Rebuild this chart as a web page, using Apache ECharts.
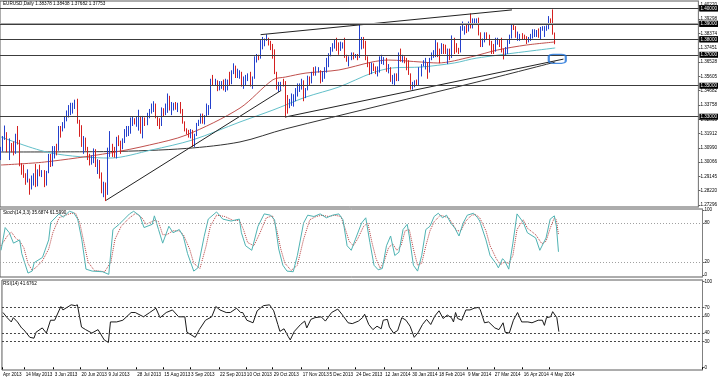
<!DOCTYPE html>
<html><head><meta charset="utf-8">
<script src="https://cdn.jsdelivr.net/npm/echarts@6/dist/echarts.min.js"></script>
<style>html,body{margin:0;padding:0;background:#fff}#c{width:720px;height:378px}</style>
</head><body><div id="c"></div>
<script>
// ---------------- DATA ----------------
const symbolName = 'EURUSD,Daily';
const firstBarDate = '2013-04-29';
const opens = [
1.3030,1.3090,1.3165,1.3185,1.3090,1.3115,1.3110,1.3075,1.3180,1.3145,
1.2990,1.2970,1.2915,1.2880,1.2885,1.2835,1.2905,1.2910,1.2865,1.2935,
1.2930,1.2935,1.2860,1.2940,1.3000,1.2995,1.3070,1.3090,1.3085,1.3225,
1.3220,1.3255,1.3280,1.3320,1.3340,1.3345,1.3380,1.3395,1.3275,1.3220,
1.3120,1.3125,1.3085,1.3025,1.3010,1.3010,1.3080,1.2990,1.3010,1.2925,
1.2830,1.2865,1.2810,1.3085,1.3110,1.3065,1.3060,1.3160,1.3140,1.3105,
1.3140,1.3215,1.3225,1.3230,1.3275,1.3275,1.3260,1.3280,1.3300,1.3200,
1.3285,1.3265,1.3300,1.3340,1.3345,1.3380,1.3300,1.3265,1.3255,1.3335,
1.3330,1.3340,1.3420,1.3350,1.3360,1.3380,1.3365,1.3380,1.3340,1.3255,
1.3220,1.3195,1.3180,1.3210,1.3115,1.3180,1.3255,1.3265,1.3315,1.3295,
1.3300,1.3340,1.3360,1.3530,1.3525,1.3525,1.3490,1.3505,1.3520,1.3485,
1.3525,1.3525,1.3520,1.3580,1.3620,1.3555,1.3575,1.3575,1.3520,1.3530,
1.3555,1.3565,1.3510,1.3555,1.3680,1.3685,1.3680,1.3780,1.3780,1.3800,
1.3800,1.3785,1.3745,1.3730,1.3585,1.3485,1.3515,1.3520,1.3510,1.3415,
1.3365,1.3395,1.3430,1.3440,1.3445,1.3500,1.3500,1.3530,1.3440,1.3480,
1.3555,1.3525,1.3585,1.3580,1.3590,1.3590,1.3540,1.3590,1.3590,1.3665,
1.3705,1.3745,1.3760,1.3780,1.3760,1.3740,1.3765,1.3765,1.3685,1.3665,
1.3675,1.3700,1.3690,1.3695,1.3680,1.3735,1.3800,1.3745,1.3670,1.3625,
1.3585,1.3630,1.3615,1.3580,1.3590,1.3665,1.3670,1.3675,1.3600,1.3615,
1.3540,1.3550,1.3565,1.3545,1.3690,1.3675,1.3675,1.3665,1.3610,1.3575,
1.3485,1.3515,1.3520,1.3515,1.3595,1.3635,1.3635,1.3645,1.3590,1.3675,
1.3695,1.3710,1.3775,1.3715,1.3710,1.3745,1.3740,1.3715,1.3730,1.3680,
1.3805,1.3740,1.3735,1.3720,1.3865,1.3875,1.3875,1.3865,1.3905,1.3900,
1.3910,1.3925,1.3930,1.3830,1.3780,1.3790,1.3830,1.3825,1.3780,1.3750,
1.3745,1.3770,1.3795,1.3780,1.3715,1.3705,1.3730,1.3790,1.3815,1.3890,
1.3885,1.3815,1.3815,1.3825,1.3815,1.3810,1.3800,1.3805,1.3810,1.3830,
1.3830,1.3840,1.3810,1.3865,1.3870,1.3870,1.3875,1.3925,1.3905,1.38378];
const highs = [
1.3105,1.3175,1.3243,1.3200,1.3160,1.3130,1.3140,1.3190,1.3240,1.3150,
1.3000,1.2990,1.2935,1.2960,1.2900,1.2920,1.2935,1.2995,1.2960,1.2990,
1.2955,1.2955,1.2950,1.3060,1.3060,1.3110,1.3110,1.3125,1.3240,1.3240,
1.3265,1.3300,1.3340,1.3375,1.3390,1.3390,1.3410,1.3416,1.3280,1.3245,
1.3175,1.3165,1.3105,1.3060,1.3050,1.3095,1.3090,1.3025,1.3020,1.2940,
1.2880,1.2875,1.3100,1.3207,1.3125,1.3105,1.3170,1.3180,1.3145,1.3160,
1.3220,1.3240,1.3240,1.3295,1.3300,1.3290,1.3300,1.3345,1.3305,1.3305,
1.3295,1.3325,1.3350,1.3385,1.3400,1.3385,1.3305,1.3290,1.3360,1.3355,
1.3385,1.3450,1.3435,1.3395,1.3390,1.3395,1.3390,1.3395,1.3350,1.3270,
1.3225,1.3215,1.3220,1.3215,1.3190,1.3260,1.3280,1.3320,1.3320,1.3310,
1.3385,1.3375,1.3545,1.3570,1.3545,1.3535,1.3530,1.3530,1.3540,1.3545,
1.3540,1.3590,1.3600,1.3645,1.3630,1.3610,1.3600,1.3590,1.3560,1.3570,
1.3580,1.3590,1.3560,1.3690,1.3705,1.3700,1.3795,1.3815,1.3805,1.3832,
1.3810,1.3790,1.3770,1.3735,1.3590,1.3525,1.3525,1.3545,1.3530,1.3440,
1.3415,1.3450,1.3445,1.3485,1.3515,1.3515,1.3545,1.3535,1.3485,1.3565,
1.3560,1.3590,1.3620,1.3625,1.3620,1.3600,1.3595,1.3620,1.3680,1.3710,
1.3750,1.3775,1.3800,1.3810,1.3780,1.3785,1.3780,1.3810,1.3700,1.3690,
1.3715,1.3715,1.3705,1.3705,1.3893,1.3815,1.3815,1.3790,1.3690,1.3650,
1.3650,1.3645,1.3625,1.3625,1.3690,1.3700,1.3685,1.3680,1.3640,1.3620,
1.3570,1.3580,1.3580,1.3715,1.3740,1.3700,1.3690,1.3680,1.3665,1.3580,
1.3525,1.3535,1.3540,1.3620,1.3640,1.3665,1.3680,1.3650,1.3680,1.3715,
1.3730,1.3795,1.3780,1.3740,1.3775,1.3770,1.3765,1.3740,1.3740,1.3825,
1.3810,1.3775,1.3745,1.3885,1.3915,1.3885,1.3895,1.3915,1.3967,1.3935,
1.3935,1.3935,1.3940,1.3845,1.3805,1.3845,1.3845,1.3830,1.3790,1.3770,
1.3810,1.3810,1.3800,1.3810,1.3740,1.3750,1.3795,1.3830,1.3905,1.3905,
1.3885,1.3850,1.3835,1.3840,1.3830,1.3820,1.3815,1.3835,1.3865,1.3865,
1.3860,1.3870,1.3880,1.3885,1.3885,1.3890,1.3950,1.3935,1.3993,1.38438];
const lows = [
1.3020,1.3075,1.3150,1.3070,1.3020,1.3070,1.3050,1.3060,1.3120,1.2980,
1.2925,1.2905,1.2860,1.2875,1.2796,1.2830,1.2855,1.2845,1.2850,1.2915,
1.2910,1.2845,1.2855,1.2935,1.2975,1.2980,1.3030,1.3050,1.3080,1.3165,
1.3205,1.3225,1.3270,1.3295,1.3310,1.3320,1.3350,1.3255,1.3170,1.3105,
1.3060,1.3080,1.3020,1.2985,1.2990,1.3000,1.2975,1.2930,1.2900,1.2805,
1.2780,1.2755,1.2795,1.3040,1.3040,1.3035,1.3030,1.3110,1.3060,1.3090,
1.3130,1.3170,1.3175,1.3190,1.3240,1.3250,1.3235,1.3210,1.3190,1.3160,
1.3240,1.3245,1.3290,1.3320,1.3330,1.3290,1.3240,1.3220,1.3240,1.3300,
1.3310,1.3325,1.3340,1.3310,1.3340,1.3345,1.3330,1.3320,1.3255,1.3205,
1.3185,1.3165,1.3160,1.3105,1.3105,1.3175,1.3240,1.3255,1.3255,1.3250,
1.3300,1.3310,1.3350,1.3500,1.3500,1.3465,1.3470,1.3480,1.3470,1.3460,
1.3470,1.3500,1.3510,1.3575,1.3550,1.3550,1.3545,1.3495,1.3480,1.3500,
1.3530,1.3495,1.3480,1.3545,1.3650,1.3665,1.3675,1.3735,1.3755,1.3790,
1.3760,1.3730,1.3675,1.3575,1.3475,1.3460,1.3470,1.3495,1.3295,1.3320,
1.3355,1.3370,1.3365,1.3400,1.3430,1.3460,1.3475,1.3400,1.3420,1.3470,
1.3505,1.3515,1.3565,1.3565,1.3585,1.3515,1.3525,1.3545,1.3585,1.3620,
1.3690,1.3720,1.3740,1.3725,1.3700,1.3725,1.3740,1.3680,1.3655,1.3625,
1.3665,1.3670,1.3680,1.3665,1.3680,1.3735,1.3740,1.3665,1.3620,1.3570,
1.3575,1.3595,1.3575,1.3560,1.3585,1.3640,1.3635,1.3590,1.3580,1.3525,
1.3510,1.3505,1.3530,1.3530,1.3655,1.3650,1.3645,1.3600,1.3570,1.3475,
1.3475,1.3490,1.3500,1.3500,1.3560,1.3625,1.3605,1.3545,1.3585,1.3665,
1.3680,1.3685,1.3685,1.3645,1.3705,1.3705,1.3705,1.3640,1.3665,1.3680,
1.3705,1.3715,1.3705,1.3715,1.3855,1.3830,1.3840,1.3850,1.3870,1.3870,
1.3895,1.3895,1.3825,1.3750,1.3750,1.3780,1.3800,1.3760,1.3705,1.3705,
1.3720,1.3765,1.3750,1.3715,1.3670,1.3695,1.3705,1.3770,1.3805,1.3860,
1.3810,1.3790,1.3790,1.3800,1.3800,1.3770,1.3780,1.3790,1.3805,1.3815,
1.3815,1.3810,1.3800,1.3855,1.3815,1.3855,1.3865,1.3895,1.3830,1.37682];
const closes = [
1.3090,1.3165,1.3185,1.3090,1.3115,1.3110,1.3075,1.3180,1.3145,1.2990,
1.2970,1.2915,1.2880,1.2885,1.2835,1.2905,1.2910,1.2865,1.2935,1.2930,
1.2935,1.2860,1.2940,1.3000,1.2995,1.3070,1.3090,1.3085,1.3225,1.3220,
1.3255,1.3280,1.3320,1.3340,1.3345,1.3380,1.3395,1.3275,1.3220,1.3120,
1.3125,1.3085,1.3025,1.3010,1.3010,1.3080,1.2990,1.3010,1.2925,1.2830,
1.2865,1.2810,1.3085,1.3110,1.3065,1.3060,1.3160,1.3140,1.3105,1.3140,
1.3215,1.3225,1.3230,1.3275,1.3275,1.3260,1.3280,1.3300,1.3200,1.3285,
1.3265,1.3300,1.3340,1.3345,1.3380,1.3300,1.3265,1.3255,1.3335,1.3330,
1.3340,1.3420,1.3350,1.3360,1.3380,1.3365,1.3380,1.3340,1.3255,1.3220,
1.3195,1.3180,1.3210,1.3115,1.3180,1.3255,1.3265,1.3315,1.3295,1.3300,
1.3340,1.3360,1.3530,1.3525,1.3525,1.3490,1.3505,1.3520,1.3485,1.3525,
1.3525,1.3520,1.3580,1.3620,1.3555,1.3575,1.3575,1.3520,1.3530,1.3555,
1.3565,1.3510,1.3555,1.3680,1.3685,1.3680,1.3780,1.3780,1.3800,1.3800,
1.3785,1.3745,1.3730,1.3585,1.3485,1.3515,1.3520,1.3510,1.3415,1.3365,
1.3395,1.3430,1.3440,1.3445,1.3500,1.3500,1.3530,1.3440,1.3480,1.3555,
1.3525,1.3585,1.3580,1.3590,1.3590,1.3540,1.3590,1.3590,1.3665,1.3705,
1.3745,1.3760,1.3780,1.3760,1.3740,1.3765,1.3765,1.3685,1.3665,1.3675,
1.3700,1.3690,1.3695,1.3680,1.3735,1.3800,1.3745,1.3670,1.3625,1.3585,
1.3630,1.3615,1.3580,1.3590,1.3665,1.3670,1.3675,1.3600,1.3615,1.3540,
1.3550,1.3565,1.3545,1.3690,1.3675,1.3675,1.3665,1.3610,1.3575,1.3485,
1.3515,1.3520,1.3515,1.3595,1.3635,1.3635,1.3645,1.3590,1.3675,1.3695,
1.3710,1.3775,1.3715,1.3710,1.3745,1.3740,1.3715,1.3730,1.3680,1.3805,
1.3740,1.3735,1.3720,1.3865,1.3875,1.3875,1.3865,1.3905,1.3900,1.3910,
1.3925,1.3930,1.3830,1.3780,1.3790,1.3830,1.3825,1.3780,1.3750,1.3745,
1.3770,1.3795,1.3780,1.3715,1.3705,1.3730,1.3790,1.3815,1.3890,1.3885,
1.3815,1.3815,1.3825,1.3815,1.3810,1.3800,1.3805,1.3810,1.3830,1.3830,
1.3840,1.3810,1.3865,1.3870,1.3870,1.3875,1.3925,1.3905,1.3838,1.37753];

// moving averages: [bar index, price]
const maRed = [[0,1.2988],[21,1.3007],[53,1.3066],[72,1.3117],[90,1.3182],[116,1.3356],[132,1.3539],[138,1.3556],[148,1.3582],[164,1.3602],[180,1.3653],[188,1.3666],[204,1.3653],[212,1.3647],[228,1.3686],[241,1.3731],[255,1.3763],[269,1.3783]];
const maTeal = [[0,1.3169],[24,1.3066],[53,1.3033],[73,1.3085],[93,1.3150],[116,1.3266],[132,1.3343],[148,1.3427],[164,1.3492],[180,1.3582],[190,1.3615],[204,1.3621],[220,1.3647],[231,1.3679],[269,1.3744]];
const maDark = [[0,1.3072],[53,1.3075],[90,1.3095],[116,1.3137],[138,1.3221],[231,1.3524],[269,1.3653]];
// trend lines: [bar index, price]
const trendJulLow = [[51,1.2760],[136,1.3470]];
const trendNovLow = [[138,1.3298],[273,1.3672]];
const trendTop = [[126,1.3830],[248,1.3990]];
const markerBox = [[270,1.3674]];
// horizontal levels
const levels = [1.39930,1.39670,1.39020,1.38790,1.37753,1.37650,1.36660,1.34720,1.32920];
const priceTicks = [1.27296,1.28220,1.29145,1.30066,1.30990,1.31912,1.32835,1.33758,1.34682,1.35605,1.36528,1.37451,1.38374,1.39298,1.40220];
const dateLabels = ['Apr 2013','14 May 2013','3 Jun 2013','20 Jun 2013','9 Jul 2013','28 Jul 2013','15 Aug 2013','3 Sep 2013','22 Sep 2013','10 Oct 2013','29 Oct 2013','17 Nov 2013','5 Dec 2013','24 Dec 2013','12 Jan 2014','30 Jan 2014','18 Feb 2014','9 Mar 2014','27 Mar 2014','16 Apr 2014','4 May 2014'];

// Stochastic(14,3,3): [bar index, value]
const stochMain = [[0,38],[2,73],[4,65],[6,49],[9,54],[10,33],[13,3],[15,6],[16,19],[20,27],[23,54],[24,81],[28,94],[30,89],[33,98],[35,96],[37,86],[39,54],[41,9],[44,6],[49,5],[52,1],[54,70],[57,78],[62,94],[64,98],[67,91],[69,73],[73,78],[74,91],[76,70],[78,49],[81,75],[83,65],[86,70],[88,59],[90,33],[93,6],[95,11],[98,59],[100,86],[104,97],[107,86],[111,83],[115,86],[116,65],[118,45],[121,38],[124,75],[127,94],[130,92],[132,85],[134,40],[136,15],[138,6],[141,5],[143,30],[146,80],[148,92],[151,90],[154,94],[157,88],[160,92],[163,94],[165,85],[167,45],[169,38],[171,55],[174,80],[176,88],[178,50],[180,15],[182,8],[184,10],[186,45],[188,60],[190,30],[192,35],[194,70],[196,78],[197,60],[199,15],[201,6],[203,30],[205,70],[207,75],[209,90],[211,95],[213,88],[215,92],[217,80],[219,72],[221,60],[223,80],[225,92],[228,95],[230,88],[231,83],[234,54],[236,30],[239,17],[240,11],[242,25],[243,22],[245,9],[247,49],[249,94],[252,81],[254,65],[258,57],[260,38],[263,57],[265,86],[267,91],[268,75],[269,35.6874]];
const stochSignal = [[0,45],[3,60],[5,66],[7,57],[9,52],[11,42],[13,18],[15,7],[17,12],[20,22],[23,40],[25,65],[28,88],[31,92],[34,95],[36,95],[38,80],[40,50],[42,20],[45,7],[50,5],[53,20],[55,55],[58,75],[62,88],[65,95],[68,88],[70,78],[74,84],[76,82],[78,62],[80,62],[83,68],[86,68],[88,62],[91,40],[93,18],[96,10],[99,45],[101,75],[104,92],[108,90],[112,84],[115,84],[117,70],[119,50],[122,45],[125,65],[128,88],[131,91],[133,70],[135,40],[137,18],[140,7],[143,15],[146,55],[149,85],[152,90],[155,92],[158,90],[161,92],[164,90],[166,72],[168,52],[170,45],[172,55],[175,75],[177,80],[179,50],[181,25],[183,10],[185,22],[187,42],[189,48],[191,38],[193,45],[195,68],[197,70],[199,40],[201,15],[203,18],[205,45],[207,68],[209,82],[212,92],[214,90],[216,88],[218,78],[220,68],[222,68],[224,82],[227,92],[229,93],[231,88],[234,68],[236,45],[239,25],[241,16],[243,20],[245,18],[247,30],[249,70],[252,85],[254,72],[258,62],[261,48],[263,52],[265,72],[267,88],[268,85],[269,61.599]];
const stochLevels = [80,20];
const stochTicks = [0,20,80,100];
// RSI(14): [bar index, value]
const rsi = [[0,64],[2,58],[4,53],[5,58],[7,53],[9,46],[10,44],[13,35],[15,34],[16,41],[19,46],[21,40],[23,55],[25,55],[28,71],[29,67],[33,73],[35,72],[36,73],[38,47],[40,44],[43,40],[46,44],[49,32],[51,29],[52,53],[55,53],[58,55],[62,64],[64,64],[68,59],[71,64],[74,69],[76,58],[79,64],[82,67],[85,59],[88,59],[89,41],[91,38],[93,35],[95,44],[98,55],[101,59],[103,71],[105,67],[108,64],[110,64],[113,69],[115,64],[116,64],[118,55],[121,52],[123,66],[126,72],[129,73],[131,66],[133,50],[134,42],[136,45],[138,36],[139,32],[141,42],[144,50],[146,54],[147,46],[149,56],[151,58],[154,59],[156,54],[159,64],[162,68],[164,62],[167,52],[169,51],[172,54],[174,58],[175,62],[177,50],[179,44],[181,48],[183,45],[184,55],[186,56],[187,47],[189,40],[191,43],[193,58],[195,55],[197,48],[199,35],[201,41],[203,50],[205,56],[207,50],[209,60],[211,66],[213,57],[215,61],[217,58],[218,53],[219,64],[220,57],[222,55],[224,67],[226,67],[228,69],[230,70],[231,67],[233,52],[235,53],[238,46],[240,44],[242,52],[243,41],[245,40],[247,55],[249,64],[251,53],[254,53],[256,52],[259,55],[261,55],[262,49],[263,58],[265,59],[266,65],[268,58],[269,41.6762]];
const rsiLevels = [70,60,40,30];
const rsiTicks = [0,30,40,60,70,100];

// ---------------- BUILD ----------------
const totalSlots = 339;
const categories = [];
(function(){
  const p = firstBarDate.split('-').map(Number);
  const d = new Date(Date.UTC(p[0], p[1]-1, p[2]));
  while (categories.length < totalSlots) {
    const wd = d.getUTCDay();
    if (wd !== 0 && wd !== 6) categories.push(d.toISOString().slice(0,10));
    d.setUTCDate(d.getUTCDate()+1);
  }
})();
const MONTHS = ['Jan','Feb','Mar','Apr','May','Jun','Jul','Aug','Sep','Oct','Nov','Dec'];
const labelAt = {};
dateLabels.forEach(function(lbl){
  const parts = lbl.split(' ');
  let idx = 0;
  if (parts.length === 3) {
    const d = new Date(Date.UTC(+parts[2], MONTHS.indexOf(parts[1]), +parts[0]));
    while (d.getUTCDay() === 0 || d.getUTCDay() === 6) d.setUTCDate(d.getUTCDate()+1);
    idx = categories.indexOf(d.toISOString().slice(0,10));
  }
  if (idx >= 0) labelAt[idx] = lbl;
});

const candles = closes.map(function(c, i){ return [opens[i], c, lows[i], highs[i]]; });
const n = closes.length - 1;
const headerText = symbolName + ' ' + opens[n].toFixed(5) + ' ' + highs[n].toFixed(5) + ' ' + lows[n].toFixed(5) + ' ' + closes[n].toFixed(5);
const stochText = 'Stoch(14,3,3) ' + stochMain[stochMain.length-1][1].toFixed(4) + ' ' + stochSignal[stochSignal.length-1][1].toFixed(4);
const rsiText = 'RSI(14) ' + rsi[rsi.length-1][1].toFixed(4);

const FF = 'Liberation Sans, Arial, sans-serif';
const FS = 4.6;
const txt = { fontSize: FS, fontWeight: 'normal', color: '#000', fontFamily: FF };
const gridCommon = { left: -1.9, right: 17.5, show: true, borderColor: '#5a5a5a', borderWidth: 1 };
const isLabel = function(i){ return labelAt[i] !== undefined; };

function xAx(i){
  return {
    type: 'category', gridIndex: i, data: categories, boundaryGap: true,
    axisLine: { show: false },
    axisTick: { show: i === 2, interval: isLabel, length: 2, lineStyle: { color: '#000' } },
    axisLabel: { show: i === 2, interval: isLabel, formatter: function(v, idx){ return labelAt[idx] || ''; },
                 align: 'left', margin: 2, fontSize: FS, color: '#000', fontFamily: FF },
    splitLine: { show: false }
  };
}
function yAx(i, min, max, ticks, fmt){
  return {
    type: 'value', gridIndex: i, position: 'right', min: min, max: max,
    splitLine: { show: false },
    axisLine: { show: true, lineStyle: { color: '#808080' } },
    axisTick: { show: true, length: 2, customValues: ticks, lineStyle: { color: '#606060' } },
    axisLabel: { show: true, customValues: ticks, formatter: fmt, margin: 2, fontSize: FS, color: '#000', fontFamily: FF }
  };
}

const levelData = levels.map(function(v, i){
  const d = { yAxis: v };
  if (i === 2) d.lineStyle = { color: '#a8a8a8', width: 2, type: 'solid' };
  return d;
});

const option = {
  animation: false,
  backgroundColor: '#fff',
  title: [
    { text: headerText, left: 3, top: 1.5, padding: 0, textStyle: txt },
    { text: stochText, left: 3, top: 210.5, padding: 0, textStyle: txt },
    { text: rsiText, left: 3, top: 281.5, padding: 0, textStyle: txt }
  ],
  grid: [
    Object.assign({ top: 1, height: 206 }, gridCommon),
    Object.assign({ top: 209, height: 68 }, gridCommon),
    Object.assign({ top: 280, height: 90 }, gridCommon)
  ],
  xAxis: [xAx(0), xAx(1), xAx(2)],
  yAxis: [
    yAx(0, 1.271668, 1.404744, priceTicks, function(v){ return v.toFixed(5); }),
    yAx(1, -3.08, 101.54, stochTicks, function(v){ return String(v); }),
    yAx(2, -3.15, 101.99, rsiTicks, function(v){ return String(v); })
  ],
  series: [
    { type: 'line', xAxisIndex: 0, yAxisIndex: 0, data: maDark, showSymbol: false, smooth: 0.3,
      lineStyle: { color: '#333', width: 1 }, z: 2 },
    { type: 'line', xAxisIndex: 0, yAxisIndex: 0, data: maTeal, showSymbol: false, smooth: 0.3,
      lineStyle: { color: '#62bfc9', width: 1 }, z: 2 },
    { type: 'line', xAxisIndex: 0, yAxisIndex: 0, data: maRed, showSymbol: false, smooth: 0.3,
      lineStyle: { color: '#c0504d', width: 1 }, z: 2 },
    { type: 'candlestick', xAxisIndex: 0, yAxisIndex: 0, data: candles, barWidth: 1, z: 3,
      itemStyle: { color: '#2340cc', color0: '#d42020', borderColor: '#2340cc', borderColor0: '#d42020', borderWidth: 1 },
      markLine: { silent: true, symbol: ['none','none'], animation: false,
        lineStyle: { color: '#3c3c3c', width: 1, type: 'solid' },
        label: { show: true, position: 'end', distance: 1, formatter: function(p){ return p.value.toFixed(5); },
                 backgroundColor: '#000', color: '#fff', fontSize: FS, fontFamily: FF, padding: [1,1,0,1] },
        data: levelData } },
    { type: 'line', xAxisIndex: 0, yAxisIndex: 0, data: trendJulLow, showSymbol: false, lineStyle: { color: '#222', width: 1 }, z: 4 },
    { type: 'line', xAxisIndex: 0, yAxisIndex: 0, data: trendNovLow, showSymbol: false, lineStyle: { color: '#222', width: 1 }, z: 4 },
    { type: 'line', xAxisIndex: 0, yAxisIndex: 0, data: trendTop, showSymbol: false, lineStyle: { color: '#222', width: 1 }, z: 4 },
    { type: 'scatter', xAxisIndex: 0, yAxisIndex: 0, data: markerBox, symbol: 'roundRect', symbolSize: [17, 9], z: 5,
      itemStyle: { color: 'rgba(0,0,0,0)', borderColor: '#1a6fd8', borderWidth: 1.6 } },

    { type: 'line', xAxisIndex: 1, yAxisIndex: 1, data: stochMain, showSymbol: false,
      lineStyle: { color: '#4fb3b3', width: 1 }, z: 3,
      markLine: { silent: true, symbol: ['none','none'], label: { show: false },
        lineStyle: { color: '#a0a0a0', width: 1, type: [1,2] },
        data: stochLevels.map(function(v){ return { yAxis: v }; }) } },
    { type: 'line', xAxisIndex: 1, yAxisIndex: 1, data: stochSignal, showSymbol: false,
      lineStyle: { color: '#b84040', width: 1, type: [1,1] }, z: 2 },

    { type: 'line', xAxisIndex: 2, yAxisIndex: 2, data: rsi, showSymbol: false,
      lineStyle: { color: '#1a1a1a', width: 1 }, z: 3,
      markLine: { silent: true, symbol: ['none','none'], label: { show: false },
        lineStyle: { color: '#444', width: 1, type: [2,2] },
        data: rsiLevels.map(function(v){ return { yAxis: v }; }) } }
  ]
};
const chart = echarts.init(document.getElementById('c'), null, { renderer: 'canvas' });
chart.setOption(option);
</script>
</body></html>
